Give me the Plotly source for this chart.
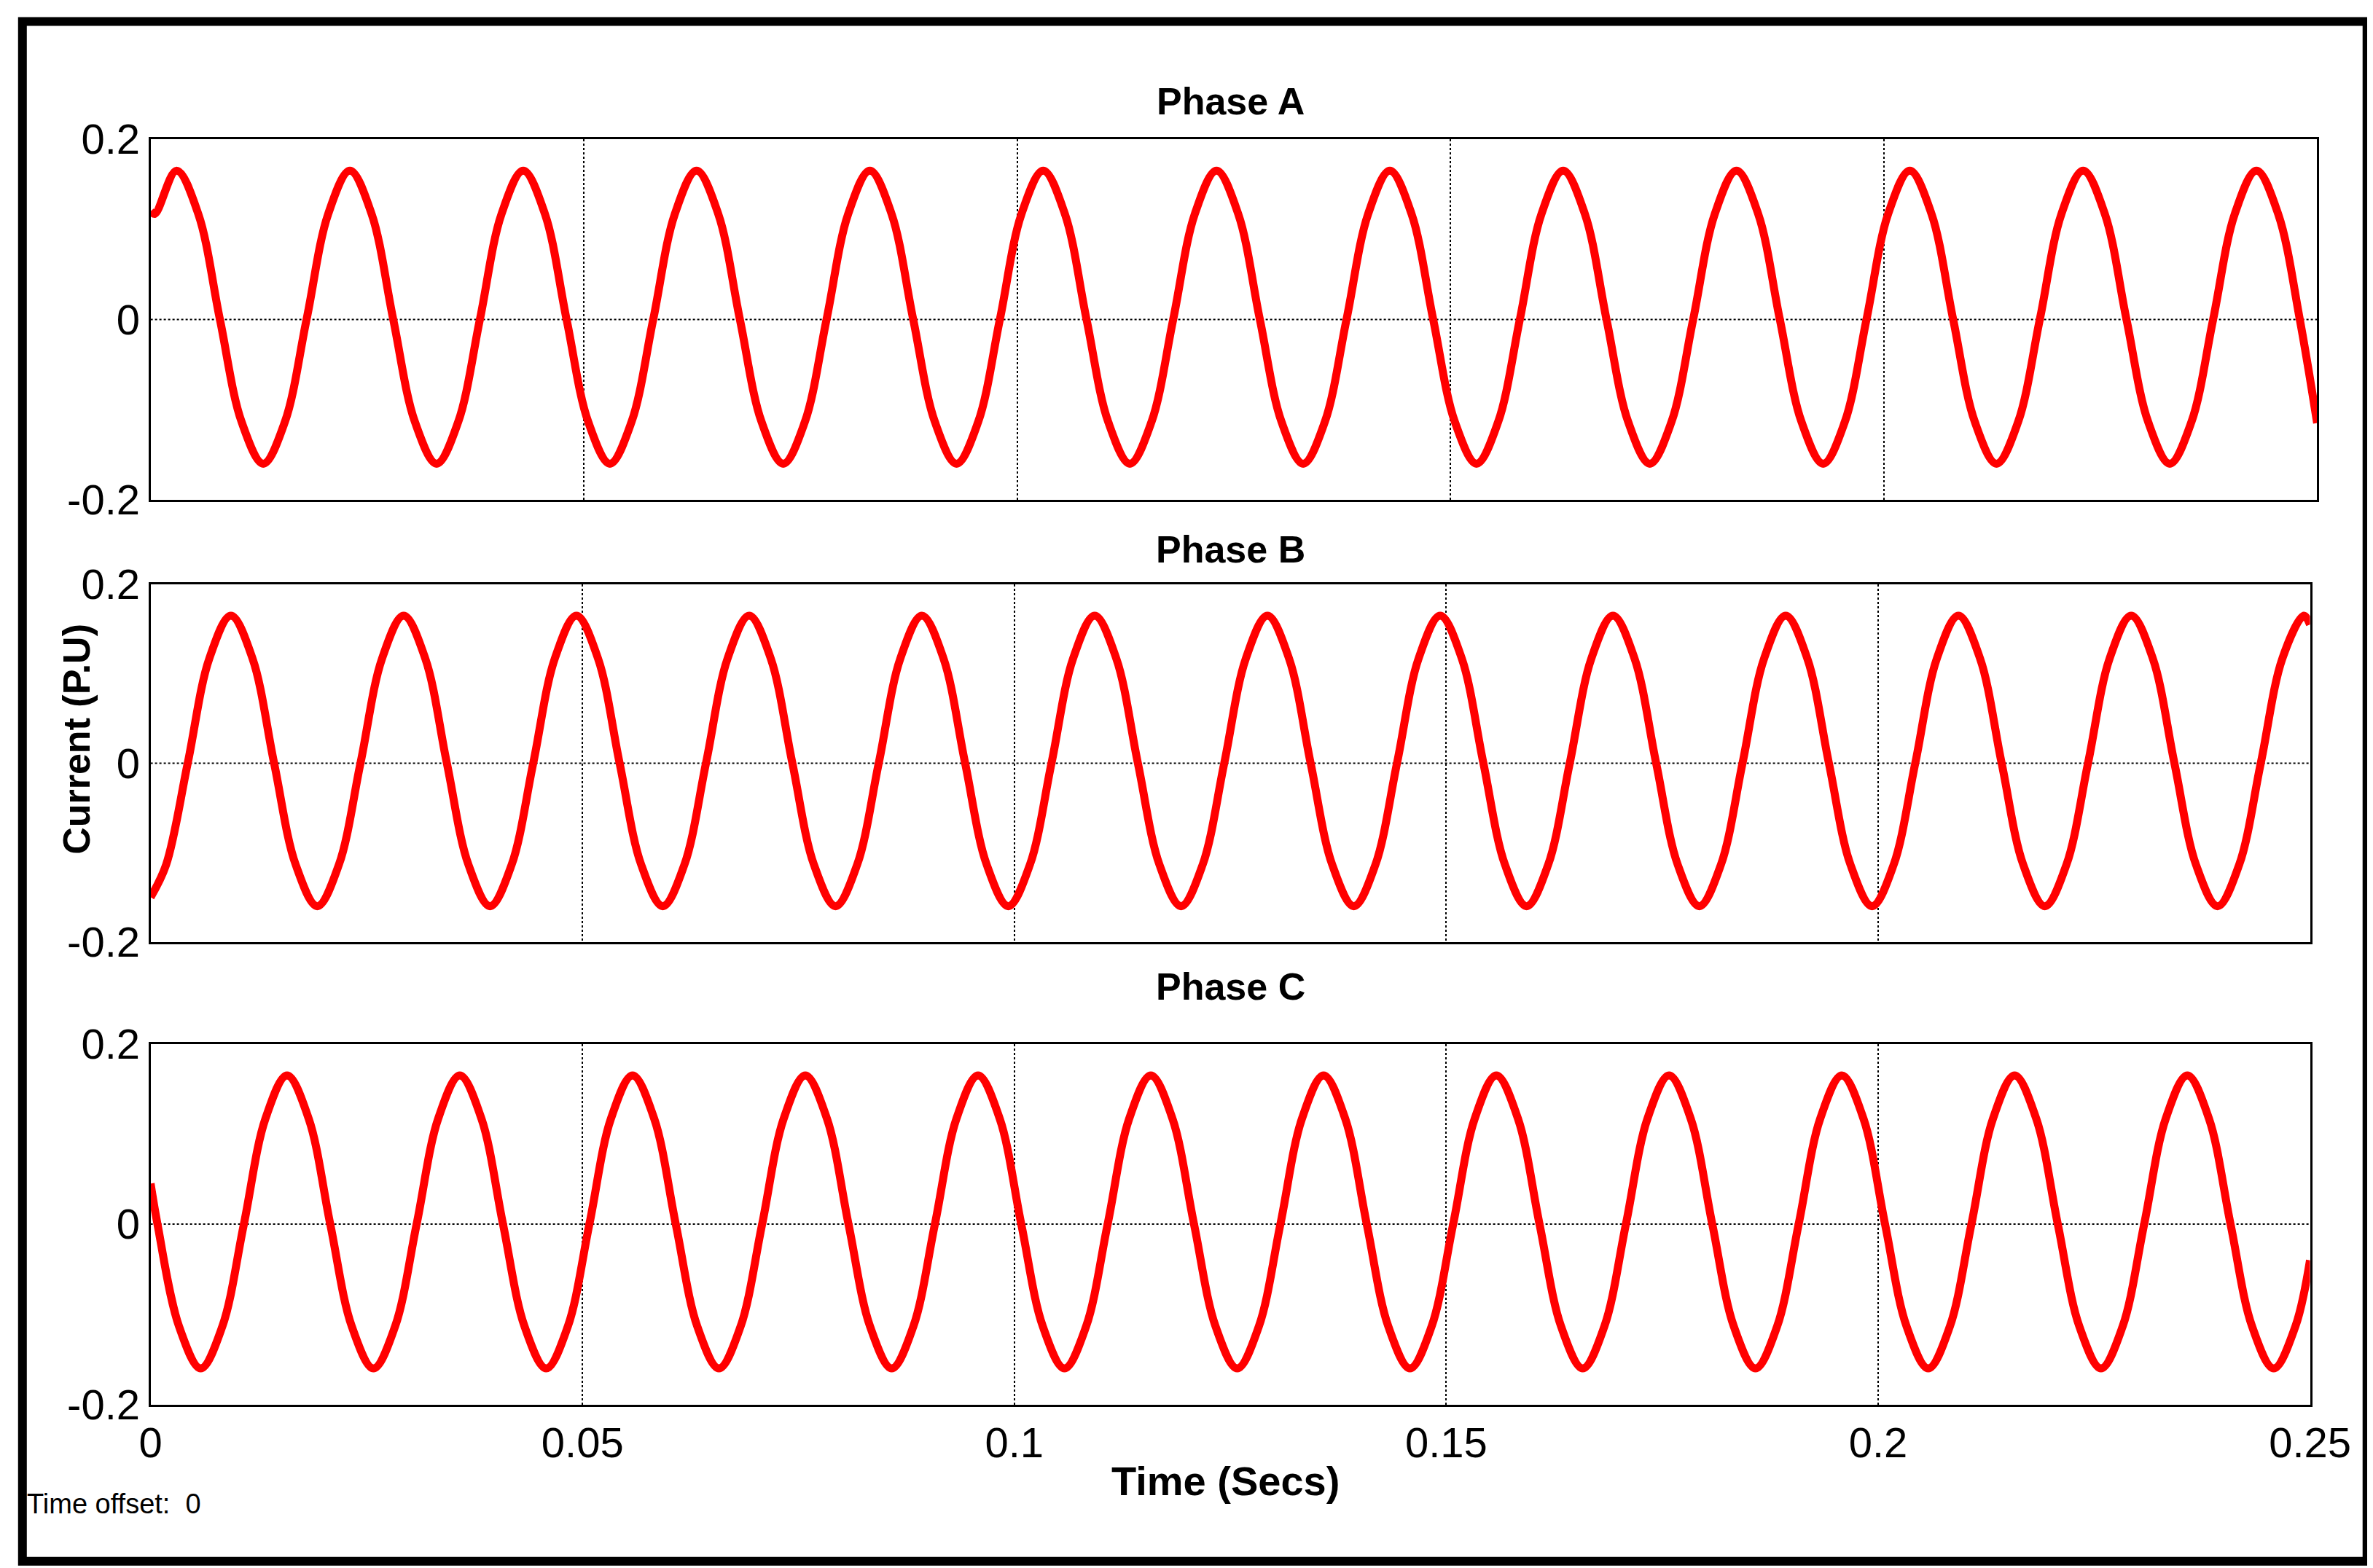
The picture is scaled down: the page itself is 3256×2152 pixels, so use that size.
import plotly.graph_objects as go

W, H = 3256, 2152
# Phase currents: times of alternating extrema
phaseA_start = (0.0, 0.12)
phaseA_first_peak = 0.003
phaseA_end = (0.25, -0.115)
phaseB_start = (0.0, -0.15)
phaseB_first_trough = -0.0007
phaseB_end = (0.25, 0.155)
phaseC_start = (0.0, 0.045)
phaseC_first_trough = 0.0058
phaseC_end = (0.25, -0.04)
peak_value = 0.165
trough_value = -0.16
shoulder_fraction = 0.71   # level read at a quarter half-period away from each extremum
half_period = 0.01

titles = ["Phase A", "Phase B", "Phase C"]
x_ticks = [0, 0.05, 0.1, 0.15, 0.2, 0.25]
x_ticklabels = ["0", "0.05", "0.1", "0.15", "0.2", "0.25"]
y_ticks = [-0.2, 0, 0.2]
y_ticklabels = ["-0.2", "0", "0.2"]

def keypoints(start, first_ext, first_is_peak, end):
    pts = [start, end]
    t, peak = first_ext - half_period, not first_is_peak
    q = half_period / 4
    while t < end[0] + half_period:
        v = peak_value if peak else trough_value
        for x, y in [(t - q, v * shoulder_fraction), (t, v), (t + q, v * shoulder_fraction), (t + 2 * q, 0.0)]:
            if start[0] < x < end[0]:
                pts.append((x, y))
        t += half_period; peak = not peak
    pts.sort()
    return [p[0] for p in pts], [p[1] for p in pts]

series = [keypoints(phaseA_start, phaseA_first_peak, True, phaseA_end),
          keypoints(phaseB_start, phaseB_first_trough, False, phaseB_end),
          keypoints(phaseC_start, phaseC_first_trough, False, phaseC_end)]

domains = [(0.685, 0.915), (0.403, 0.631), (0.108, 0.338)]
xdoms = [(0.061, 0.974), (0.061, 0.971), (0.061, 0.971)]
FONT = "Liberation Sans Narrow, Arial Narrow, Liberation Sans, Arial"
fig = go.Figure()
for i, (xs, ys) in enumerate(series):
    n = "" if i == 0 else str(i + 1)
    fig.add_trace(go.Scatter(x=xs, y=ys, mode="lines", line=dict(color="#ff0000", width=11, shape="spline", smoothing=1.0),
                             xaxis="x" + n, yaxis="y" + n, showlegend=False))
    fig.layout["xaxis" + n] = dict(domain=xdoms[i], range=[0, 0.25], anchor="y" + n, tickvals=x_ticks,
                                   ticktext=x_ticklabels, showticklabels=(i == 2), showgrid=True,
                                   gridcolor="black", griddash="dot", gridwidth=2, zeroline=False,
                                   showline=True, linecolor="black", linewidth=3, mirror=True, automargin=False,
                                   ticks="", tickfont=dict(size=58, family=FONT, color="black"))
    fig.layout["yaxis" + n] = dict(domain=domains[i], range=[-0.2, 0.2], anchor="x" + n, tickvals=y_ticks,
                                   ticktext=y_ticklabels, showgrid=False, zeroline=False,
                                   showline=True, linecolor="black", linewidth=3, mirror=True, automargin=False,
                                   ticks="", tickfont=dict(size=58, family=FONT, color="black"))
    fig.add_shape(type="line", xref="x" + n, yref="y" + n, x0=0, x1=0.25, y0=0, y1=0,
                  line=dict(color="black", width=2, dash="dot"), layer="below")

ann = []
for t, y in zip(titles, [2152 - 100, 2152 - 715, 2152 - 1346]):
    ann.append(dict(text="<b>" + t + "</b>", x=0.516, y=y / H, xref="paper", yref="paper", showarrow=False,
                    font=dict(size=52, family=FONT, color="black")))
ann.append(dict(text="<b>Current (P.U)</b>", x=32 / 1563, y=1 - 483 / 1033, xref="paper", yref="paper",
                showarrow=False, textangle=-90, font=dict(size=52, family="Liberation Sans, Arial", color="black")))
ann.append(dict(text="<b>Time (Secs)</b>", x=0.514, y=1 - 988 / 1033, xref="paper", yref="paper",
                showarrow=False, font=dict(size=56, family=FONT, color="black")))
ann.append(dict(text="Time offset:  0", x=13 / 1563, y=1 - 998 / 1033, xref="paper", yref="paper",
                xanchor="left", showarrow=False, font=dict(size=38, family=FONT, color="black")))
fig.update_layout(width=W, height=H, margin=dict(l=0, r=0, t=0, b=0, autoexpand=False), paper_bgcolor="white",
                  plot_bgcolor="white", annotations=ann,
                  shapes=list(fig.layout.shapes) + [dict(type="rect", xref="paper", yref="paper", x0=0.007, x1=0.995,
                                                          y0=0.008, y1=0.99, line=dict(color="black", width=12))])
fig.write_html("out.html")
